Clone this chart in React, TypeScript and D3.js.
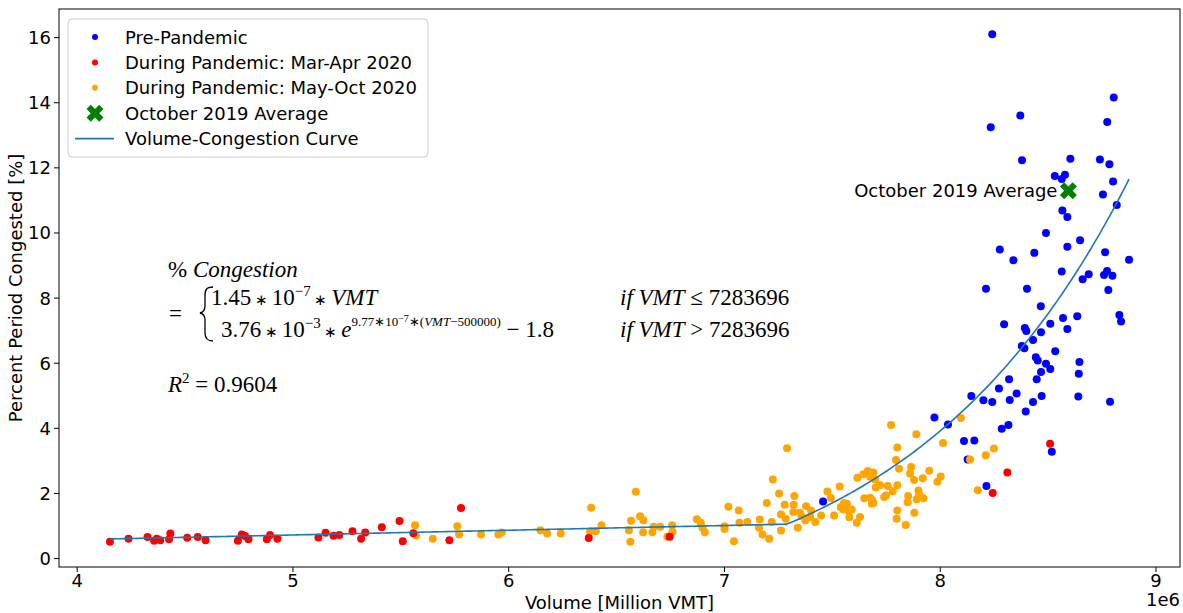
import React from 'react';
import * as d3 from 'd3';

// VMT in millions, percent period congested
const prePandemic: [number, number][] = [
  [7.457, 1.75], [7.973, 4.33], [8.036, 4.12], [8.110, 3.61], [8.158, 3.63], [8.127, 3.04], [8.214, 2.23],
  [8.144, 4.99], [8.200, 4.86], [8.241, 4.81], [8.272, 5.22], [8.322, 4.87], [8.354, 5.07], [8.319, 5.51],
  [8.285, 3.99], [8.316, 4.10], [8.396, 4.52], [8.430, 4.81], [8.447, 5.51], [8.470, 4.99], [8.640, 4.98],
  [8.787, 4.82], [8.517, 3.28],
  [8.818, 10.86], [8.566, 10.69], [8.589, 10.49], [8.490, 10.00], [8.648, 9.78], [8.589, 9.58], [8.276, 9.49],
  [8.436, 9.39], [8.764, 9.41], [8.339, 9.16], [8.875, 9.18], [8.563, 8.82], [8.688, 8.73], [8.660, 8.58],
  [8.773, 8.83], [8.759, 8.71], [8.798, 8.69], [8.212, 8.29], [8.402, 8.29], [8.779, 8.25], [8.466, 7.75],
  [8.569, 7.39], [8.635, 7.44], [8.830, 7.48], [8.838, 7.28], [8.296, 7.20], [8.392, 7.08], [8.399, 6.99],
  [8.510, 7.21], [8.467, 6.95], [8.589, 7.05], [8.430, 6.71], [8.378, 6.53], [8.390, 6.46], [8.533, 6.37],
  [8.443, 6.18], [8.452, 6.08], [8.490, 5.98], [8.510, 5.82], [8.467, 5.73], [8.645, 6.04], [8.642, 5.68],
  [8.241, 16.10], [8.804, 14.16], [8.371, 13.61], [8.234, 13.25], [8.774, 13.41], [8.379, 12.23], [8.603, 12.28],
  [8.740, 12.26], [8.784, 12.11], [8.531, 11.75], [8.578, 11.79], [8.563, 11.66], [8.801, 11.58], [8.754, 11.18],
];

const marApr2020: [number, number][] = [
  [4.152, 0.52], [4.238, 0.61], [4.326, 0.66], [4.357, 0.55], [4.369, 0.61], [4.385, 0.56], [4.426, 0.59],
  [4.432, 0.77], [4.510, 0.64], [4.559, 0.66], [4.595, 0.56], [4.745, 0.55], [4.763, 0.74], [4.778, 0.69],
  [4.794, 0.59], [4.879, 0.59], [4.894, 0.72], [4.928, 0.61], [5.118, 0.65], [5.151, 0.79], [5.188, 0.70],
  [5.215, 0.72], [5.276, 0.84], [5.316, 0.61], [5.335, 0.80], [5.412, 0.96], [5.494, 1.15], [5.509, 0.53],
  [5.558, 0.78], [5.725, 0.56], [5.779, 1.55], [6.371, 0.63], [6.746, 0.67], [8.509, 3.53], [8.311, 2.64],
  [8.243, 2.01],
];

const mayOct2020: [number, number][] = [
  [5.566, 1.02], [5.571, 0.71], [5.648, 0.61], [5.762, 0.99], [5.770, 0.74], [5.872, 0.74], [5.952, 0.74],
  [5.968, 0.80], [6.147, 0.87], [6.178, 0.77], [6.241, 0.77], [6.382, 1.56], [6.377, 0.84], [6.404, 0.84],
  [6.430, 1.02], [6.557, 0.87], [6.564, 0.52], [6.567, 1.16], [6.589, 2.05], [6.609, 1.30], [6.624, 1.18],
  [6.623, 0.81], [6.666, 0.81], [6.672, 0.98], [6.702, 0.98], [6.735, 0.67], [6.757, 1.02], [6.759, 0.82],
  [6.872, 1.21], [6.890, 1.10], [6.898, 0.95], [6.909, 0.81], [7.000, 0.99], [7.000, 0.91], [7.018, 1.59],
  [7.044, 0.53], [7.066, 1.48], [7.069, 1.10], [7.106, 1.12], [7.160, 0.95], [7.164, 1.20], [7.176, 0.74],
  [7.207, 0.61], [7.196, 1.71], [7.219, 1.12], [7.224, 2.43], [7.253, 2.00], [7.262, 1.35], [7.262, 0.86],
  [7.279, 1.65], [7.290, 3.39], [7.284, 1.22], [7.321, 1.65], [7.324, 1.92], [7.319, 1.43], [7.340, 0.95],
  [7.350, 1.41], [7.358, 1.30], [7.378, 1.61], [7.375, 1.18], [7.397, 1.28], [7.401, 1.48], [7.421, 1.12],
  [7.448, 1.32], [7.477, 2.06], [7.493, 1.86], [7.508, 1.32], [7.534, 2.21], [7.539, 1.58], [7.554, 1.71],
  [7.567, 1.68], [7.551, 1.51], [7.577, 1.46], [7.590, 1.51], [7.579, 1.27], [7.613, 1.10], [7.628, 1.28],
  [7.616, 2.48], [7.644, 2.59], [7.664, 2.69], [7.690, 2.64], [7.675, 2.51], [7.701, 2.18], [7.721, 2.25],
  [7.698, 2.43], [7.648, 1.85], [7.675, 1.87], [7.685, 1.79], [7.683, 1.68], [7.690, 1.71], [7.740, 1.89],
  [7.749, 1.94], [7.757, 2.23], [7.780, 2.07], [7.772, 4.10], [7.801, 3.41], [7.795, 3.03], [7.809, 2.76],
  [7.801, 2.25], [7.801, 1.48], [7.798, 1.22], [7.889, 3.82], [7.865, 2.81], [7.860, 2.61], [7.879, 2.41],
  [7.919, 2.47], [7.949, 2.70], [8.002, 2.52], [7.987, 2.36], [8.013, 3.55], [8.096, 4.32], [7.851, 1.92],
  [7.849, 1.73], [7.899, 2.09], [7.902, 1.97], [7.922, 1.85], [7.891, 1.82], [7.880, 1.41], [7.840, 1.03],
  [8.138, 3.04], [8.211, 3.17], [8.249, 3.38], [8.174, 2.10],
];

const oct2019Average: [number, number] = [8.594, 11.30];

const xTicks = [4, 5, 6, 7, 8, 9];
const yTicks = [0, 2, 4, 6, 8, 10, 12, 14, 16];

const legendLabels = [
  'Pre-Pandemic',
  'During Pandemic: Mar-Apr 2020',
  'During Pandemic: May-Oct 2020',
  'October 2019 Average',
  'Volume-Congestion Curve',
];

// Volume-congestion model (from the chart's equation)
const LIN_COEF = 1.45e-7;
const BREAK_VMT = 7283696;
const EXP_A = 3.76e-3;
const EXP_K = 9.77e-7;
const EXP_SHIFT = 500000;
const EXP_C = 1.8;
const congestion = (vmt: number) =>
  vmt <= BREAK_VMT ? LIN_COEF * vmt : EXP_A * Math.exp(EXP_K * (vmt - EXP_SHIFT)) - EXP_C;

const W = 1183;
const H = 613;
const L = 59, R = 1180, T = 9, B = 567;
const SANS = 'DejaVu Sans, sans-serif';
const SERIF = 'Liberation Serif, serif';

export default function App() {
  const all = [...prePandemic, ...marApr2020, ...mayOct2020, oct2019Average];
  const [xmin, xmax] = d3.extent(all, (d) => d[0]) as [number, number];
  const [ymin, ymax] = d3.extent(all, (d) => d[1]) as [number, number];
  const xp = (xmax - xmin) * 0.05;
  const yp = (ymax - ymin) * 0.05;
  const x = d3.scaleLinear().domain([xmin - xp, xmax + xp]).range([L, R]);
  const y = d3.scaleLinear().domain([ymin - yp, ymax + yp]).range([B, T]);

  const samples = d3.range(0, 301).map((i) => xmin + ((xmax - xmin) * i) / 300);
  samples.push(BREAK_VMT / 1e6);
  samples.sort((a, b) => a - b);
  const curve = d3
    .line<number>()
    .x((v) => x(v))
    .y((v) => y(congestion(v * 1e6)))(samples) as string;

  const xSym = d3.symbol(d3.symbolCross, 180)() as string;
  const r = 4;

  const legendY = (i: number) => 37 + i * 25.4;
  const EF = 23;

  return (
    <svg width={W} height={H} style={{ position: 'absolute', left: 0, top: 0, background: '#fff' }}>
      <rect x={0} y={0} width={W} height={H} fill="#fff" />
      {/* scatter */}
      {prePandemic.map((d, i) => (
        <circle key={'b' + i} cx={x(d[0])} cy={y(d[1])} r={r} fill="#0000ff" />
      ))}
      {mayOct2020.map((d, i) => (
        <circle key={'o' + i} cx={x(d[0])} cy={y(d[1])} r={r} fill="#ffa500" />
      ))}
      {marApr2020.map((d, i) => (
        <circle key={'r' + i} cx={x(d[0])} cy={y(d[1])} r={r} fill="#ff0000" />
      ))}
      <path d={xSym} transform={`translate(${x(oct2019Average[0])},${y(oct2019Average[1])}) rotate(45)`} fill="#008000" />
      <text x={x(oct2019Average[0]) - 11} y={y(oct2019Average[1])} dominantBaseline="central" textAnchor="end" fontFamily={SANS} fontSize={18} fill="#000">
        October 2019 Average
      </text>
      <path d={curve} fill="none" stroke="#1f77b4" strokeWidth={1.6} />

      {/* axes frame */}
      <rect x={L} y={T} width={R - L} height={B - T} fill="none" stroke="#000" strokeWidth={1} />
      {xTicks.map((t) => (
        <g key={'xt' + t}>
          <line x1={x(t)} x2={x(t)} y1={B} y2={B + 5} stroke="#000" />
          <text x={x(t)} y={B + 20} textAnchor="middle" fontFamily={SANS} fontSize={18}>{t}</text>
        </g>
      ))}
      {yTicks.map((t) => (
        <g key={'yt' + t}>
          <line x1={L - 5} x2={L} y1={y(t)} y2={y(t)} stroke="#000" />
          <text x={L - 8} y={y(t)} textAnchor="end" dominantBaseline="central" fontFamily={SANS} fontSize={18}>{t}</text>
        </g>
      ))}
      <text x={(L + R) / 2} y={609} textAnchor="middle" fontFamily={SANS} fontSize={18}>Volume [Million VMT]</text>
      <text x={R} y={606} textAnchor="end" fontFamily={SANS} fontSize={18}>1e6</text>
      <text transform={`translate(15,${(T + B) / 2}) rotate(-90)`} textAnchor="middle" dominantBaseline="central" fontFamily={SANS} fontSize={18}>
        Percent Period Congested [%]
      </text>

      {/* equation */}
      <g fontFamily={SERIF} fontSize={EF} fill="#000" style={{ whiteSpace: 'pre' }}>
        <text x={168} y={277}>%<tspan fontStyle="italic"> Congestion</tspan></text>
        <text x={169} y={321}>=</text>
        <path d="M 213 287 C 206 287, 205 290, 205 296 L 205 306 C 205 310, 204 312, 200 313 C 204 314, 205 316, 205 320 L 205 333 C 205 338, 207 341, 213 341" fill="none" stroke="#000" strokeWidth={1.3} />
        <text x={211} y={305}>
          1.45<tspan fontSize={15}>{' ∗ '}</tspan>10<tspan dy={-9} fontSize={15}>−7</tspan><tspan dy={9} fontSize={15}>{' ∗ '}</tspan><tspan fontStyle="italic">VMT</tspan>
        </text>
        <text x={620} y={305}>
          <tspan fontStyle="italic">if VMT</tspan> ≤ 7283696
        </text>
        <text x={221} y={337}>
          3.76<tspan fontSize={15}>{' ∗ '}</tspan>10<tspan dy={-9} fontSize={15}>−3</tspan><tspan dy={9} fontSize={15}>{' ∗ '}</tspan><tspan fontStyle="italic">e</tspan>
          <tspan dy={-11} fontSize={13}>9.77∗10</tspan><tspan dy={-4} fontSize={10}>−7</tspan><tspan dy={4} fontSize={13}>∗(</tspan>
          <tspan fontSize={13} fontStyle="italic">VMT</tspan><tspan fontSize={13}>−500000)</tspan><tspan dy={11}>{' − 1.8'}</tspan>
        </text>
        <text x={620} y={337}>
          <tspan fontStyle="italic">if VMT</tspan> &gt; 7283696
        </text>
        <text x={168} y={392}>
          <tspan fontStyle="italic">R</tspan><tspan dy={-9} fontSize={15}>2</tspan><tspan dy={9}> = 0.9604</tspan>
        </text>
      </g>

      {/* legend */}
      <rect x={68} y={19} width={360} height={138} rx={4} fill="#fff" fillOpacity={0.8} stroke="#cccccc" />
      <circle cx={95} cy={legendY(0)} r={3} fill="#0000ff" />
      <circle cx={95} cy={legendY(1)} r={3} fill="#ff0000" />
      <circle cx={95} cy={legendY(2)} r={3} fill="#ffa500" />
      <path d={xSym} transform={`translate(95,${legendY(3)}) rotate(45)`} fill="#008000" />
      <line x1={75} x2={114} y1={legendY(4)} y2={legendY(4)} stroke="#1f77b4" strokeWidth={1.6} />
      {legendLabels.map((lab, i) => (
        <text key={lab} x={125} y={legendY(i)} dominantBaseline="central" fontFamily={SANS} fontSize={18}>{lab}</text>
      ))}
    </svg>
  );
}
